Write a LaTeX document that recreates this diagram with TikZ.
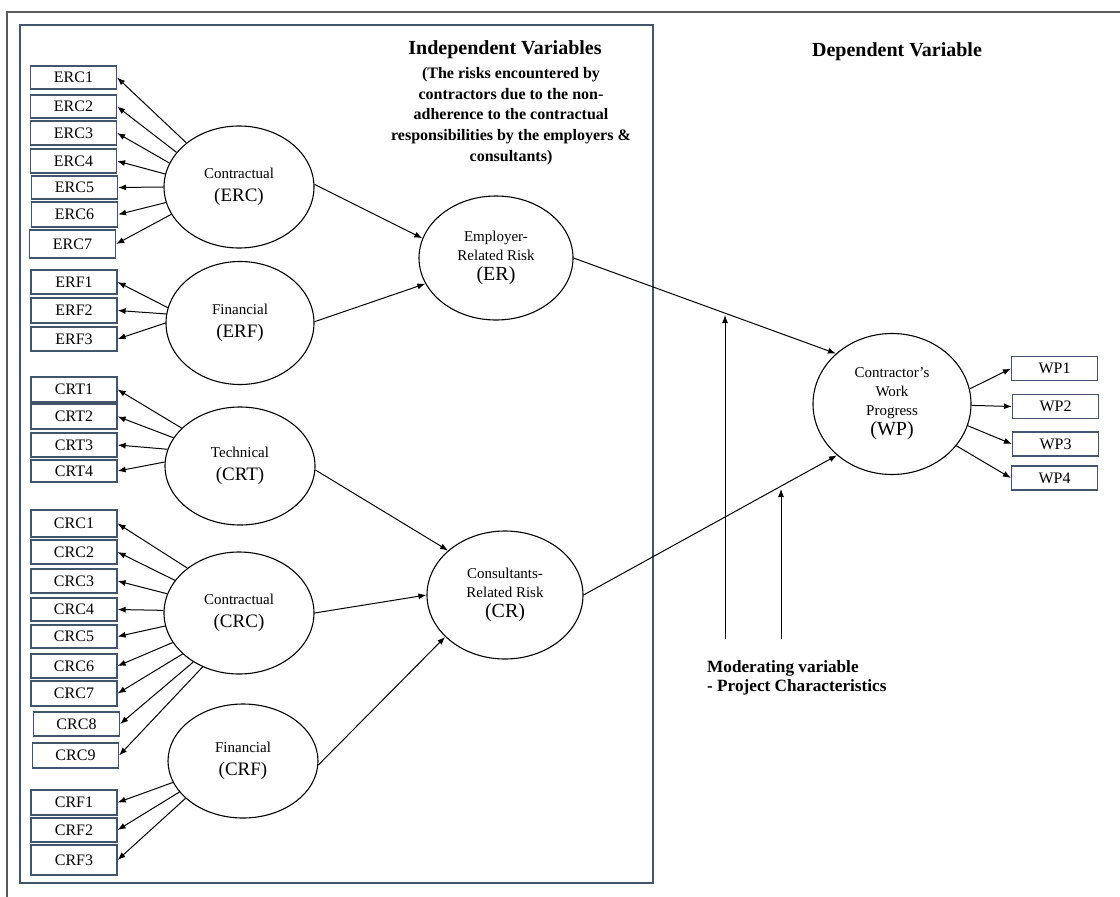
\documentclass[tikz,border=0pt]{standalone}
\usepackage{fontspec}
\setmainfont{Liberation Serif}
\usetikzlibrary{arrows.meta,shapes.geometric}
\definecolor{boxcol}{RGB}{68,84,106}
\definecolor{framegray}{RGB}{90,90,90}
\begin{document}
\begin{tikzpicture}[x=1pt,y=-1pt,
  box/.style={draw=boxcol, line width=1.2pt, fill=white, minimum width=86pt, inner sep=0pt, font=\fontsize{16}{17}\selectfont},
  lat/.style={ellipse, draw, line width=1.1pt, inner sep=0pt, align=center, font=\fontsize{15}{19}\selectfont},
  arr/.style={-{Latex[length=8pt,width=6pt]}, line width=1pt},
  ttl/.style={font=\fontsize{20}{24}\selectfont\bfseries},
  sub/.style={font=\fontsize{16}{20.7}\selectfont\bfseries, align=center}
]
\useasboundingbox (0,0) rectangle (1120,897);
% frames
\draw[framegray, line width=2pt] (1120,12) -- (7,12) -- (7,897);
\draw[boxcol, line width=1.8pt] (20,25) rectangle (653,883);

% titles
\node[ttl] (indep) at (505,50) {Independent Variables};
\node[sub] (indepsub) at (511,116) {(The risks encountered by\\contractors due to the non-\\adherence to the contractual\\responsibilities by the employers \&\\consultants)};
\node[ttl] (dep) at (897,52) {Dependent Variable};
\node[font=\fontsize{17.2}{19.5}\selectfont\bfseries, align=left, anchor=north west, inner sep=0pt] (mod) at (707,660) {Moderating variable\\- Project Characteristics};

% latent variables
\node[lat, minimum width=150pt, minimum height=122pt] (ERC) at (239,187) {Contractual\\[4pt]{\fontsize{19}{20}\selectfont(ERC)}};
\node[lat, minimum width=148pt, minimum height=123pt] (ERF) at (240,323) {Financial\\[4pt]{\fontsize{19}{20}\selectfont(ERF)}};
\node[lat, minimum width=150pt, minimum height=118pt] (CRT) at (240,466) {Technical\\[4pt]{\fontsize{19}{20}\selectfont(CRT)}};
\node[lat, minimum width=150pt, minimum height=122pt] (CRC) at (239,613) {Contractual\\[4pt]{\fontsize{19}{20}\selectfont(CRC)}};
\node[lat, minimum width=150pt, minimum height=114pt] (CRF) at (243,761) {Financial\\[4pt]{\fontsize{19}{20}\selectfont(CRF)}};
\node[lat, minimum width=154pt, minimum height=124pt] (ER) at (496,258) {Employer-\\Related Risk\\[1pt]{\fontsize{20}{21}\selectfont(ER)}};
\node[lat, minimum width=156pt, minimum height=128pt] (CR) at (505,595) {Consultants-\\Related Risk\\[1pt]{\fontsize{20}{21}\selectfont(CR)}};
\node[lat, minimum width=158pt, minimum height=141pt] (WP) at (892,404) {Contractor's\\Work\\Progress\\[1pt]{\fontsize{20}{21}\selectfont(WP)}};

% indicator boxes
\foreach \n/\x/\y/\h in {ERC1/73.5/77.5/23, ERC2/73.5/106.5/23, ERC3/73.5/133/24, ERC4/73.5/161/24, ERC5/74.5/187.5/23, ERC6/74.5/214.5/25, ERC7/72.5/244/28,
  ERF1/74/282/24, ERF2/74/310.5/25, ERF3/74/339/24,
  CRT1/74/389.5/25, CRT2/74/416.5/25, CRT3/74/445/24, CRT4/74/471/22,
  CRC1/74/523.5/27, CRC2/74/552/24, CRC3/74/581/24, CRC4/74/609.5/23, CRC5/74/636.5/23, CRC6/74/666/24, CRC7/74/693.5/25, CRC8/76.5/724/24, CRC9/75.5/755.5/25,
  CRF1/74/802.5/25, CRF2/74/830/24, CRF3/74/860/30}
  \node[box, minimum height=\h pt] (\n) at (\x,\y) {\n};
\foreach \n/\x/\y in {WP1/1054.5/368.5, WP2/1055.5/406.5, WP3/1055.5/444, WP4/1054.5/478}
  \node[box, minimum height=24pt] (\n) at (\x,\y) {\n};

% loadings
\foreach \s/\a/\t in {ERC/140/ERC1, ERC/151/ERC2, ERC/161/ERC3, ERC/170/ERC4, ERC/180/ERC5, ERC/192/ERC6, ERC/202/ERC7,
  ERF/168/ERF1, ERF/173/ERF2, ERF/180/ERF3,
  CRT/147/CRT1, CRT/157/CRT2, CRT/167/CRT3, CRT/177/CRT4,
  CRC/139/CRC1, CRC/153/CRC2, CRC/165/CRC3, CRC/178/CRC4, CRC/190/CRC5, CRC/204/CRC6, CRC/216/CRC7, CRC/227/CRC8, CRC/236/CRC9,
  CRF/197/CRF1, CRF/206/CRF2, CRF/213/CRF3}
  \draw[arr] (\s.\a) -- (\t.east);
\foreach \a/\t in {11/WP1, -1/WP2, -16/WP3, -33/WP4}
  \draw[arr] (WP.\a) -- (\t.west);

% structural paths
\draw[arr] (ERC.2) -- (ER.165);
\draw[arr] (ERF.1) -- (ER.200);
\draw[arr] (CRT.-3) -- (CR.142);
\draw[arr] (CRC.0) -- (CR.180);
\draw[arr] (CRF.-3) -- (CR.215);
\draw[arr] (ER.0) -- (WP.138);
\draw[arr] (CR.0) -- (WP.223);

% moderating arrows
\coordinate (m1a) at (725,639);
\coordinate (m1b) at (725,315);
\coordinate (m2a) at (781,639);
\coordinate (m2b) at (781,489);
\draw[arr] (m1a) -- (m1b);
\draw[arr] (m2a) -- (m2b);
\end{tikzpicture}
\end{document}
